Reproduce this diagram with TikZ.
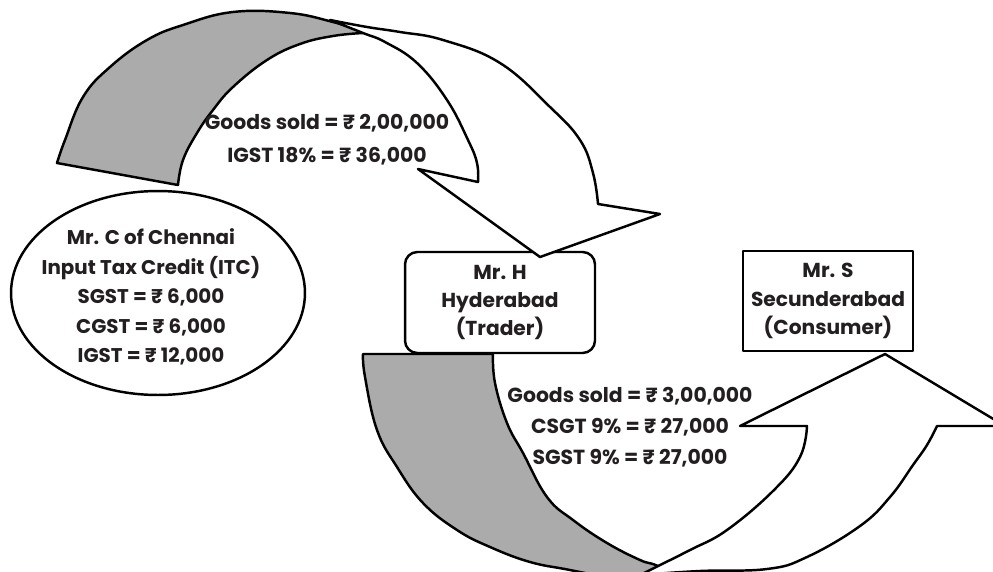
\documentclass[tikz,border=0pt]{standalone}
\usepackage{fontspec}
\setmainfont{Poppins}
\usetikzlibrary{shapes.geometric}
\definecolor{backgrey}{RGB}{171,171,171}
\definecolor{inkgrey}{RGB}{35,31,32}

\begin{document}
\begin{tikzpicture}[x=0.02cm, y=-0.02cm,
    outline/.style={draw=black, line width=1.4pt, line join=round},
    backface/.style={outline, fill=backgrey},
    frontface/.style={outline, fill=white},
    party/.style={outline, fill=white, text=inkgrey, align=center,
        font=\bfseries\fontsize{11.5}{16}\selectfont},
    amount/.style={text=inkgrey, align=center,
        font=\bfseries\fontsize{11.6}{19}\selectfont}]
    \useasboundingbox (0,0) rectangle (993,571);

    % parties
    \node[party, ellipse, minimum width=5.88cm, minimum height=4.08cm] (chennai) at (158,293) {};
    \node[amount, font=\bfseries\fontsize{11.3}{16.8}\selectfont] (itc) at (151,297)
        {Mr. C of Chennai\\Input Tax Credit (ITC)\\SGST = ₹ 6,000\\CGST = ₹ 6,000\\IGST = ₹ 12,000};
    \node[party, rounded corners=7pt, minimum width=3.8cm, minimum height=2.02cm] (trader) at (500,302.5)
        {Mr. H\\Hyderabad\\(Trader)};
    \node[party, minimum width=3.4cm, minimum height=2cm] (consumer) at (828,301)
        {Mr. S\\Secunderabad\\(Consumer)};

    % sale to Mr. H
    \filldraw[backface] plot[smooth, tension=0.7] coordinates {(57,163) (65,140) (83,97) (110,67) (147,40) (183,25) (233,12) (290,13) (333,22) (363,31)}
        -- plot[smooth, tension=0.7] coordinates {(363,33) (333,36) (300,44) (267,60) (233,87) (213,110) (197,133) (183,160) (178,185)} -- cycle;
    \filldraw[frontface] plot[smooth, tension=0.7] coordinates {(330,20) (367,27) (400,32) (443,40) (500,63) (550,107) (580,140) (593,173) (598,204)}
        -- (660,214) -- (540,257) -- (418,169) -- (478,182)
        -- plot[smooth, tension=0.7] coordinates {(478,182) (477,163) (468,140) (447,100) (417,63) (385,42) (363,33) (330,20)} -- cycle;

    % sale to Mr. S
    \filldraw[backface] (363,354) -- (493,354)
        -- plot[smooth, tension=0.7] coordinates {(493,354) (495,383) (507,423) (523,453) (547,497) (573,520) (607,543) (640,560) (658,566) (700,585)}
        -- plot[smooth, tension=0.7] coordinates {(620,580) (570,570) (530,562) (490,547) (457,530) (423,503) (397,467) (377,430) (365,377) (363,354)} -- cycle;
    \filldraw[frontface] plot[smooth, tension=0.7] coordinates {(640,575) (700,571) (767,569) (807,557) (860,526) (890,497) (913,465) (927,445) (937,426)}
        -- (1005,426) -- (885,354) -- (740,426) -- (807,426)
        -- plot[smooth, tension=0.7] coordinates {(807,426) (800,457) (774,490) (727,530) (690,550) (658,566)} -- cycle;

    % amounts
    \node[amount] (firstsale) at (327,140) {Goods sold = ₹ 2,00,000\\IGST 18\% = ₹ 36,000};
    \node[amount, font=\bfseries\fontsize{11.6}{17.8}\selectfont] (secondsale) at (630,427)
        {Goods sold = ₹ 3,00,000\\CSGT 9\% = ₹ 27,000\\SGST 9\% = ₹ 27,000};
\end{tikzpicture}
\end{document}
